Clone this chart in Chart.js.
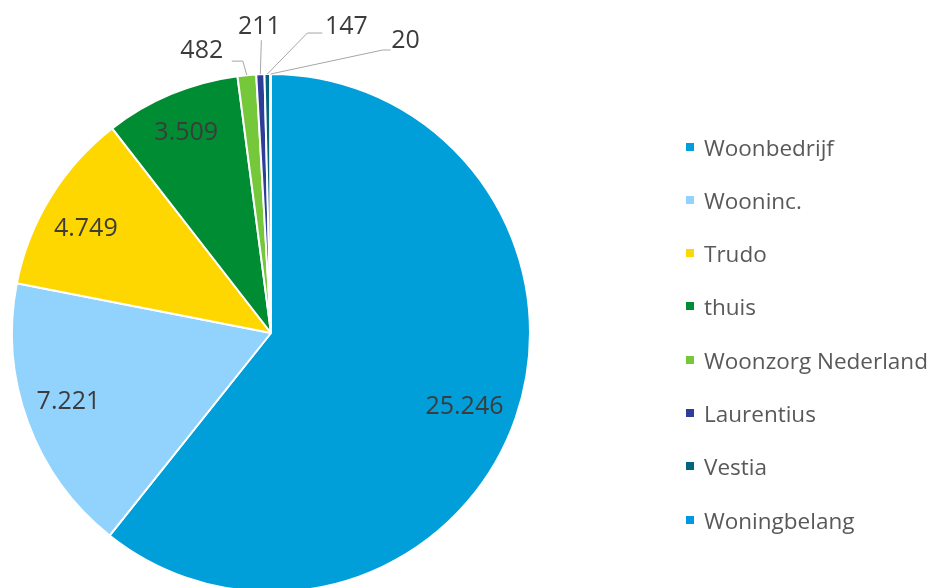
<!DOCTYPE html>
<html>
<head>
<meta charset="utf-8">
<script src="https://cdn.jsdelivr.net/npm/chart.js@4.4.0/dist/chart.umd.min.js"></script>
<style>
  html, body { margin:0; padding:0; background:#fff; overflow:hidden; width:933px; height:588px; }
  #wrap { position:absolute; left:0; top:0; width:933px; height:600px; }
  #legend { position:absolute; left:686px; top:0; font-family:"Open Sans", sans-serif; font-size:22.5px; color:#595959; }
  .item { position:absolute; left:0; white-space:nowrap; display:flex; align-items:center; height:30px; }
  .sw { width:8px; height:8px; margin-right:10px; }
</style>
</head>
<body>
<div id="wrap"><canvas id="c" width="933" height="600"></canvas></div>
<div id="legend"></div>
<script>
const categories = ["Woonbedrijf", "Wooninc.", "Trudo", "thuis", "Woonzorg Nederland", "Laurentius", "Vestia", "Woningbelang"];
const values = [25246, 7221, 4749, 3509, 482, 211, 147, 20];
const valueLabels = ["25.246", "7.221", "4.749", "3.509", "482", "211", "147", "20"];
const colors = ["#009FDA", "#92D3FE", "#FFD700", "#008C32", "#74C83A", "#2E3D98", "#00657E", "#0098E4"];

// label placement styling (inside: radial factor + angle tweak in degrees; outside: leader path offsets from arc edge)
const labelStyle = [
  { inside: 0.80, rot: 1.7 }, { inside: 0.826, rot: 1.4 }, { inside: 0.82, rot: -2.3 }, { inside: 0.84, rot: -0.3 },
  { path: [[-4,-14],[-15,-14]], text: [-45,-24] },
  { path: [[1,-34]], text: [-1,-47] },
  { path: [[40,-41],[55,-41]], text: [79,-47] },
  { path: [[112,-24],[120,-24]], text: [135,-33] }
];

const labelPlugin = {
  id: 'sliceLabels',
  afterDatasetsDraw(chart) {
    const ctx = chart.ctx;
    const meta = chart.getDatasetMeta(0);
    ctx.save();
    ctx.font = '25px "Open Sans", sans-serif';
    ctx.fillStyle = '#3C3C3C';
    ctx.textAlign = 'center';
    ctx.textBaseline = 'middle';
    meta.data.forEach((arc, i) => {
      const p = arc.getProps(['x','y','startAngle','endAngle','outerRadius'], true);
      const mid = (p.startAngle + p.endAngle) / 2;
      const st = labelStyle[i];
      if (st.inside) {
        const r = p.outerRadius * st.inside;
        const a = mid + st.rot * Math.PI / 180;
        ctx.fillText(valueLabels[i], p.x + Math.cos(a) * r, p.y + Math.sin(a) * r);
      } else {
        const ax = p.x + Math.cos(mid) * p.outerRadius;
        const ay = p.y + Math.sin(mid) * p.outerRadius;
        ctx.strokeStyle = '#A6A6A6';
        ctx.lineWidth = 1;
        ctx.beginPath();
        ctx.moveTo(ax, ay);
        st.path.forEach(o => ctx.lineTo(ax + o[0], ay + o[1]));
        ctx.stroke();
        ctx.fillText(valueLabels[i], ax + st.text[0], ay + st.text[1]);
      }
    });
    ctx.restore();
  }
};

new Chart(document.getElementById('c'), {
  type: 'pie',
  data: {
    labels: categories,
    datasets: [{
      data: values,
      backgroundColor: colors,
      borderColor: '#ffffff',
      borderWidth: 2
    }]
  },
  options: {
    responsive: false,
    animation: false,
    devicePixelRatio: 1,
    layout: { padding: { left: 11, top: 73, right: 402, bottom: 7 } },
    plugins: { legend: { display: false }, tooltip: { enabled: false } }
  },
  plugins: [labelPlugin]
});

const legend = document.getElementById('legend');
const rowY = [147, 200, 253, 306, 360, 413, 466, 520];
categories.forEach((name, i) => {
  const d = document.createElement('div');
  d.className = 'item';
  d.style.top = (rowY[i] - 15) + 'px';
  const sw = document.createElement('span');
  sw.className = 'sw';
  sw.style.background = colors[i];
  const t = document.createElement('span');
  t.textContent = name;
  d.appendChild(sw); d.appendChild(t);
  legend.appendChild(d);
});
</script>
</body>
</html>
